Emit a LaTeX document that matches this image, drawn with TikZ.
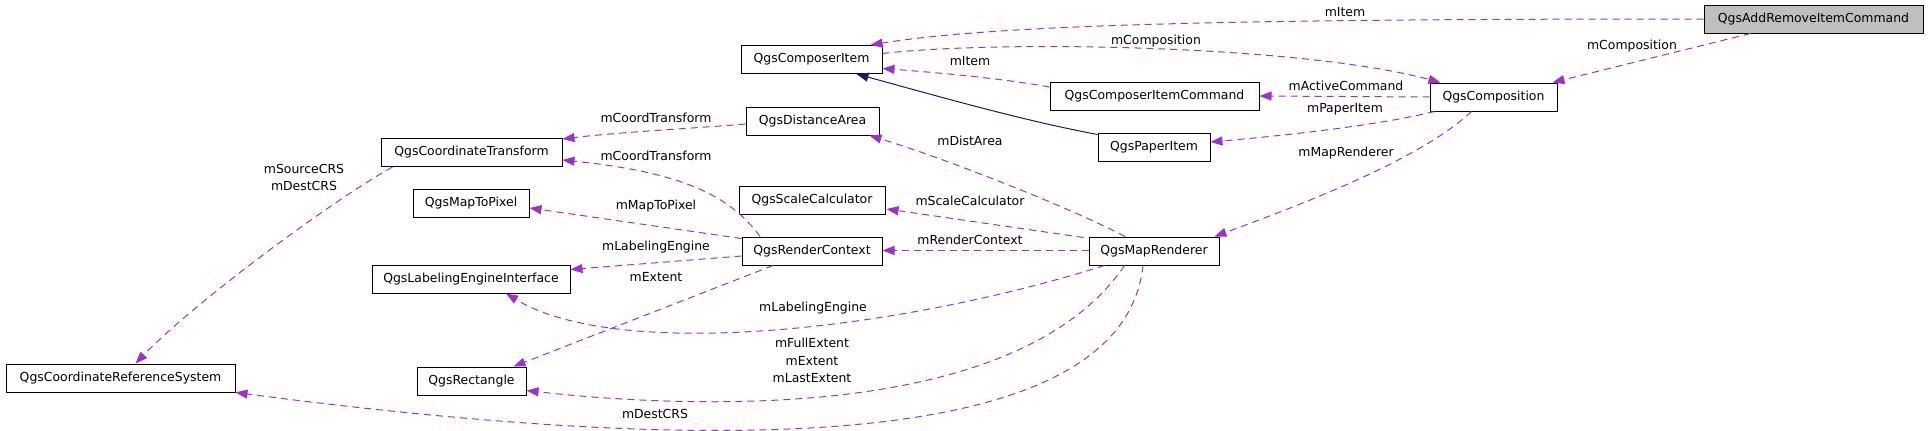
\documentclass[tikz,border=0pt]{standalone}
\usepackage{fontspec}
\setmainfont{DejaVu Sans}
\usetikzlibrary{arrows.meta,calc}
\definecolor{relcol}{HTML}{9A32CD}
\definecolor{inhcol}{HTML}{191970}
\begin{document}
\begin{tikzpicture}[x=1pt,y=-1pt,font=\fontsize{12.45}{17.5}\selectfont,
	box/.style={draw=black,line width=1pt,fill=white,minimum height=28pt,inner sep=0pt,text height=9.5pt,text depth=3pt},
	rel/.style={draw=relcol,line width=1pt,dash pattern=on 7pt off 5pt,-{Triangle[length=12pt,width=9pt]}},
	inh/.style={draw=inhcol,line width=1pt,-{Triangle[length=12pt,width=9pt]}},
	lbl/.style={inner sep=0pt,text height=9.5pt,text depth=3pt},
	mlbl/.style={inner sep=0pt,align=center}]
	\useasboundingbox (0,0) rectangle (1928,431);
	\node[box,fill=black!25,minimum width=219pt] (addrem) at (1813.5,19) {QgsAddRemoveItemCommand};
	\foreach \n/\x/\y/\w/\t in {ci/811.5/59.5/141/QgsComposerItem,
		comp/1493.5/97/127/QgsComposition,
		cic/1154.5/96/209/QgsComposerItemCommand,
		paper/1154/147/112/QgsPaperItem,
		da/812.5/121/133/QgsDistanceArea,
		ct/471.5/152.5/181/QgsCoordinateTransform,
		mtp/471/203/116/QgsMapToPixel,
		sc/812/200/146/QgsScaleCalculator,
		rc/812/251/140/QgsRenderContext,
		mr/1154/251/130/QgsMapRenderer,
		le/471/279/198/QgsLabelingEngineInterface,
		rect/471.5/381/109/QgsRectangle,
		crs/120.5/378/229/QgsCoordinateReferenceSystem}{
		\node[box,minimum width=\w pt] (\n) at (\x,\y) {\t};
	}
	% relations
	\draw[rel] (addrem.west) .. controls (1250,19) and (1000,24) .. ($(ci.north east)+(-12,0)$);
	\draw[rel] ($(ci.east)+(0,-6)$) .. controls (1000,40) and (1300,45) .. ($(comp.north west)+(11,0)$);
	\draw[rel] ($(cic.west)+(0,-9)$) .. controls (1000,78) and (930,72) .. ($(ci.east)+(0,9)$);
	\draw[inh] ($(paper.north west)+(0,2)$) .. controls (1020,120) and (930,94) .. ($(ci.south)+(45,0)$);
	\draw[rel] ($(addrem.south)+(-63,0)$) -- ($(comp.north east)+(-5,0)$);
	\draw[rel] (comp.west) -- (cic.east);
	\draw[rel] ($(comp.south west)+(5,0)$) .. controls (1380,125) and (1290,135) .. ($(paper.east)+(0,-5)$);
	\draw[rel] ($(comp.south)+(-22,0)$) .. controls (1420,160) and (1300,205) .. ($(mr.north east)+(-5,0)$);
	\draw[rel] ($(da.west)+(0,3)$) .. controls (700,128) and (620,132) .. ($(ct.north east)+(0,1)$);
	\draw[rel] ($(mr.north)+(-29,0)$) .. controls (1075,210) and (950,160) .. ($(da.south east)+(-10,0)$);
	\draw[rel] ($(rc.north)+(-52,0)$) .. controls (730,195) and (680,172) .. ($(ct.south east)+(0,-7)$);
	\draw[rel] ($(rc.north west)+(0,2)$) -- ($(mtp.east)+(0,5)$);
	\draw[rel] ($(rc.west)+(0,5)$) -- ($(le.north east)+(0,5)$);
	\draw[rel] ($(rc.south)+(-39,0)$) -- ($(rect.north east)+(-13,0)$);
	\draw[rel] ($(mr.north west)+(-5,1)$) -- ($(sc.east)+(1,9)$);
	\draw[rel] ($(mr.west)+(0,-0.5)$) -- ($(rc.east)+(0,-0.5)$);
	\draw[rel] ($(mr.south west)+(16,0)$) .. controls (900,330) and (620,362) .. ($(le.south)+(35,0)$);
	\draw[rel] ($(mr.south west)+(36,0)$) .. controls (1020,420) and (700,410) .. ($(rect.south east)+(0,-5)$);
	\draw[rel] ($(mr.south)+(-11,0)$) .. controls (1120,480) and (600,440) .. (crs.south east);
	\draw[rel] ($(ct.south west)+(12,0)$) .. controls (333,200) and (196,301) .. ($(crs.north)+(15,0)$);
	% labels
	\foreach \n/\x/\y/\t in {l1/1345/13/mItem,
		l2/1156/41/mComposition,
		l3/970/62/mItem,
		l4/1632/46/mComposition,
		l5/1346/87/mActiveCommand,
		l6/1345/109/mPaperItem,
		l7/1346/153/mMapRenderer,
		l8/656/119/mCoordTransform,
		l9/970/142/mDistArea,
		l10/656/157/mCoordTransform,
		l11/656/206/mMapToPixel,
		l12/970/202/mScaleCalculator,
		l13/656/247/mLabelingEngine,
		l14/970/241/mRenderContext,
		l15/656/278/mExtent,
		l16/813/308/mLabelingEngine,
		l17/655/415/mDestCRS}{
		\node[lbl] (\n) at (\x,\y) {\t};
	}
	\node[mlbl] (l18) at (812,360.5) {mFullExtent\\mExtent\\mLastExtent};
	\node[mlbl] (l19) at (304,177.5) {mSourceCRS\\mDestCRS};
\end{tikzpicture}
\end{document}
